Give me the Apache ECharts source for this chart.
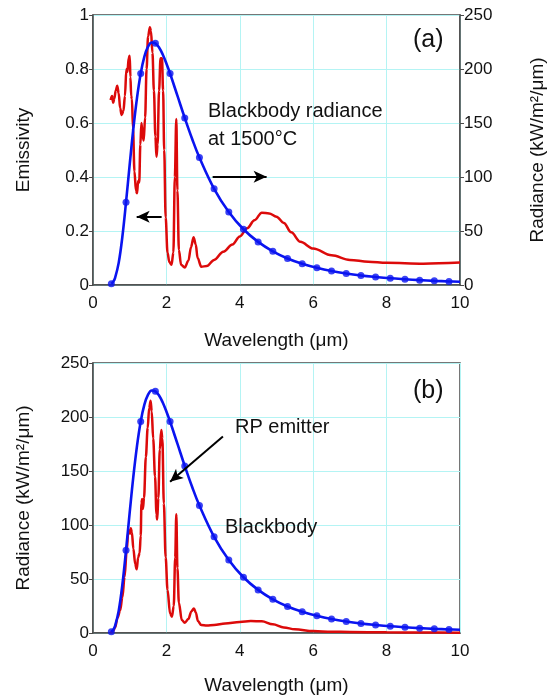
<!DOCTYPE html>
<html>
<head>
<meta charset="utf-8">
<script src="https://cdn.jsdelivr.net/npm/echarts@6/dist/echarts.min.js"></script>
<style>
  html, body { margin: 0; padding: 0; background: #fff; }
  #chart { width: 547px; height: 698px; }
</style>
</head>
<body>
<div id="chart"></div>
<script>
// blackbody at 1500 C (kW/m2/um)
var bbWave = [0.5, 0.55, 0.6, 0.7, 0.8, 0.9, 1.0, 1.1, 1.2, 1.3, 1.4, 1.5, 1.6, 1.7, 1.8, 1.9, 2.0, 2.1, 2.3, 2.5, 2.7, 2.9, 3.3, 3.7, 4.1, 4.5, 4.9, 5.3, 5.7, 6.1, 6.5, 6.9, 7.3, 7.7, 8.1, 8.5, 8.9, 9.3, 9.7, 10]
var bbRad = [1.1, 2.9, 6.4, 20.5, 44.7, 76.7, 111.6, 145, 173.5, 195.9, 211.5, 220.7, 224.5, 223.8, 219.9, 213.4, 205.1, 195.8, 175.3, 154.7, 135.4, 118, 89.1, 67.6, 51.6, 39.9, 31.2, 24.6, 19.7, 15.9, 12.9, 10.6, 8.8, 7.4, 6.2, 5.3, 4.5, 3.85, 3.3, 3.0]

// dots on the blackbody curve
var markWave = [0.5, 0.9, 1.3, 1.7, 2.1, 2.5, 2.9, 3.3, 3.7, 4.1, 4.5, 4.9, 5.3, 5.7, 6.1, 6.5, 6.9, 7.3, 7.7, 8.1, 8.5, 8.9, 9.3, 9.7]
var markRad = [1.1, 76.7, 195.9, 223.8, 195.8, 154.7, 118, 89.1, 67.6, 51.6, 39.9, 31.2, 24.6, 19.7, 15.9, 12.9, 10.6, 8.8, 7.4, 6.2, 5.3, 4.5, 3.85, 3.3]

// (a) emissivity of RP emitter
var emWave = [0.48, 0.52, 0.55, 0.58, 0.62, 0.66, 0.7, 0.74, 0.78, 0.83, 0.87, 0.91, 0.94, 0.97, 1.0, 1.02, 1.04, 1.06, 1.09, 1.13, 1.17, 1.2, 1.23, 1.26, 1.29, 1.32, 1.35, 1.38, 1.42, 1.46, 1.5, 1.55, 1.58, 1.62, 1.66, 1.7, 1.73, 1.76, 1.8, 1.84, 1.88, 1.91, 1.94, 1.98, 2.03, 2.08, 2.14, 2.19, 2.23, 2.27, 2.3, 2.34, 2.4, 2.5, 2.6, 2.67, 2.74, 2.8, 2.85, 2.95, 3.1, 3.3, 3.55, 3.8, 4.0, 4.2, 4.4, 4.6, 4.8, 5.0, 5.2, 5.4, 5.65, 6.0, 6.5, 7.0, 7.5, 8.0, 9.0, 10]
var emVal = [0.685, 0.70, 0.675, 0.69, 0.72, 0.738, 0.71, 0.655, 0.63, 0.645, 0.70, 0.80, 0.79, 0.84, 0.849, 0.77, 0.70, 0.69, 0.58, 0.42, 0.35, 0.34, 0.385, 0.38, 0.52, 0.60, 0.56, 0.535, 0.62, 0.80, 0.92, 0.955, 0.94, 0.86, 0.72, 0.55, 0.475, 0.52, 0.72, 0.84, 0.84, 0.72, 0.50, 0.25, 0.12, 0.085, 0.075, 0.12, 0.40, 0.615, 0.35, 0.13, 0.075, 0.065, 0.09, 0.14, 0.177, 0.15, 0.10, 0.068, 0.07, 0.093, 0.123, 0.15, 0.18, 0.21, 0.24, 0.268, 0.265, 0.253, 0.23, 0.195, 0.16, 0.135, 0.11, 0.093, 0.086, 0.082, 0.079, 0.083]

// (b) radiance of RP emitter (kW/m2/um)
var rpWave = [0.48, 0.55, 0.6, 0.67, 0.74, 0.8, 0.86, 0.92, 0.96, 0.99, 1.01, 1.03, 1.06, 1.1, 1.15, 1.19, 1.23, 1.27, 1.3, 1.32, 1.34, 1.36, 1.39, 1.44, 1.49, 1.53, 1.57, 1.6, 1.64, 1.69, 1.73, 1.75, 1.78, 1.82, 1.86, 1.89, 1.93, 1.98, 2.03, 2.1, 2.15, 2.2, 2.24, 2.27, 2.3, 2.34, 2.42, 2.5, 2.6, 2.68, 2.75, 2.8, 2.86, 2.95, 3.1, 3.3, 3.6, 4.0, 4.3, 4.6, 4.9, 5.2, 5.5, 6.0, 6.5, 7.0, 8.0, 9.0, 10]
var rpRad = [0, 2, 5, 14, 21, 33, 52, 77, 93, 95, 92, 97, 93, 78, 64, 59, 70, 74, 90, 120, 124, 115, 125, 163, 190, 208, 215, 205, 180, 145, 110, 105, 125, 170, 188, 180, 120, 70, 40, 18, 15, 25, 70, 110, 60, 28, 12, 9.5, 13, 20, 22.8, 19, 11, 7.5, 7, 7.5, 8.8, 10.3, 11, 10.8, 8, 5.2, 3.4, 1.8, 1.2, 0.9, 0.6, 0.4, 0.3]

var xTicks = [0, 2, 4, 6, 8, 10]

function pairs(xs, ys) {
  return xs.map(function(x, i) { return [x, ys[i]] })
}

var font = 'Liberation Sans, Arial, sans-serif'
var axisColor = '#4a4a4a'
var gridColor = '#b4f4f4'
var blue = '#0a14f0'
var red = '#dc0a0a'

function xAxis(gridIndex, gap) {
  return {
    type: 'value',
    gridIndex: gridIndex,
    min: xTicks[0],
    max: xTicks[xTicks.length - 1],
    interval: 2,
    name: 'Wavelength (\u03bcm)',
    nameLocation: 'middle',
    nameGap: gap,
    nameTextStyle: { fontFamily: font, fontSize: 19, color: '#111' },
    axisLine: { lineStyle: { color: axisColor, width: 1.5 } },
    axisTick: { show: false },
    axisLabel: { fontFamily: font, fontSize: 17, color: '#111', margin: 10 },
    splitLine: { show: true, lineStyle: { color: gridColor, width: 1 } }
  }
}

function yAxis(gridIndex, opts) {
  return Object.assign({
    type: 'value',
    gridIndex: gridIndex,
    min: 0,
    nameLocation: 'middle',
    nameTextStyle: { fontFamily: font, fontSize: 19, color: '#111' },
    axisLine: { show: true, lineStyle: { color: axisColor, width: 1.5 } },
    axisTick: { show: true, inside: false, length: 4, lineStyle: { color: axisColor } },
    axisLabel: { fontFamily: font, fontSize: 17, color: '#111', margin: 4 },
    splitLine: { show: true, lineStyle: { color: gridColor, width: 1 } }
  }, opts)
}

function arrow(from, to) {
  return [{ coord: from, symbol: 'none' }, { coord: to, symbol: 'arrow' }]
}

var arrowStyle = {
  silent: true,
  symbol: ['none', 'arrow'],
  symbolSize: [9, 13],
  label: { show: false },
  lineStyle: { color: '#000', width: 2, type: 'solid' },
  emphasis: { disabled: true }
}

var chart = echarts.init(document.getElementById('chart'))

chart.setOption({
  animation: false,
  grid: [
    { left: 93, right: 87, top: 15, height: 270, show: true, borderColor: axisColor, borderWidth: 1.5, outerBoundsMode: 'none', containLabel: false },
    { left: 93, right: 87, top: 363, height: 270, show: true, borderColor: axisColor, borderWidth: 1.5, outerBoundsMode: 'none', containLabel: false }
  ],
  xAxis: [xAxis(0, 46), xAxis(1, 43)],
  yAxis: [
    yAxis(0, { max: 1, interval: 0.2, name: 'Emissivity', nameGap: 60 }),
    yAxis(0, {
      position: 'right', max: 250, interval: 50,
      name: 'Radiance (kW/m\u00b2/\u03bcm)', nameGap: 68, nameRotate: 90,
      splitLine: { show: false }
    }),
    yAxis(1, { max: 250, interval: 50, name: 'Radiance (kW/m\u00b2/\u03bcm)', nameGap: 60 })
  ],
  series: [
    {
      type: 'line', xAxisIndex: 0, yAxisIndex: 1,
      data: pairs(bbWave, bbRad), showSymbol: false, smooth: 0.4,
      lineStyle: { color: blue, width: 2.6 }, z: 3
    },
    {
      type: 'scatter', xAxisIndex: 0, yAxisIndex: 1,
      data: pairs(markWave, markRad), symbolSize: 7,
      itemStyle: { color: blue }, z: 4
    },
    {
      type: 'line', xAxisIndex: 0, yAxisIndex: 0,
      data: pairs(emWave, emVal), showSymbol: false, smooth: 0.35, smoothMonotone: 'x',
      lineStyle: { color: red, width: 2.5 }, z: 2,
      markLine: Object.assign({
        data: [arrow([1.87, 0.253], [1.19, 0.253]), arrow([3.26, 0.401], [4.73, 0.401])]
      }, arrowStyle)
    },
    {
      type: 'line', xAxisIndex: 1, yAxisIndex: 2,
      data: pairs(bbWave, bbRad), showSymbol: false, smooth: 0.4,
      lineStyle: { color: blue, width: 2.6 }, z: 3
    },
    {
      type: 'scatter', xAxisIndex: 1, yAxisIndex: 2,
      data: pairs(markWave, markRad), symbolSize: 7,
      itemStyle: { color: blue }, z: 4
    },
    {
      type: 'line', xAxisIndex: 1, yAxisIndex: 2,
      data: pairs(rpWave, rpRad), showSymbol: false, smooth: 0.35, smoothMonotone: 'x',
      lineStyle: { color: red, width: 2.5 }, z: 2,
      markLine: Object.assign({
        data: [arrow([3.54, 182], [2.1, 140])]
      }, arrowStyle)
    }
  ],
  graphic: [
    { type: 'text', z: 100, left: 413, top: 28, style: { text: '(a)', font: '25px ' + font, fill: '#111' } },
    { type: 'text', z: 100, left: 208, top: 97, style: { text: 'Blackbody radiance\nat 1500\u00b0C', font: '20px ' + font, fill: '#111', lineHeight: 28 } },
    { type: 'text', z: 100, left: 413, top: 379, style: { text: '(b)', font: '25px ' + font, fill: '#111' } },
    { type: 'text', z: 100, left: 235, top: 417, style: { text: 'RP emitter', font: '20px ' + font, fill: '#111' } },
    { type: 'text', z: 100, left: 225, top: 517, style: { text: 'Blackbody', font: '20px ' + font, fill: '#111' } }
  ]
})
</script>
</body>
</html>
